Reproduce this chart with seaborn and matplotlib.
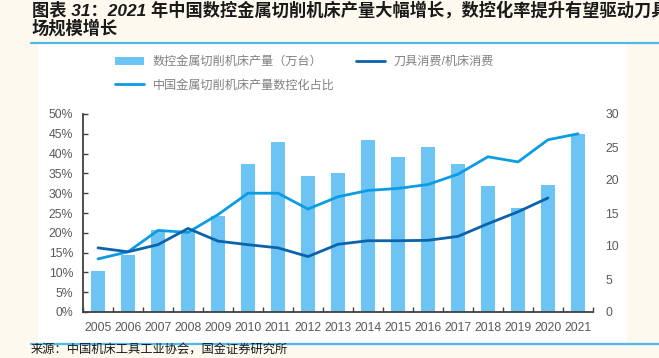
import numpy as np
import matplotlib
matplotlib.use("Agg")
import matplotlib.pyplot as plt
import seaborn as sns
from matplotlib.patches import Rectangle, Patch
from matplotlib.lines import Line2D
from matplotlib.ticker import FixedLocator

# ---------------- data ----------------
years = list(range(2005, 2022))
cnc_output = [6.2, 8.7, 12.4, 12.2, 14.6, 22.4, 25.8, 20.6, 21.0, 26.1,
              23.5, 25.0, 22.4, 19.1, 15.7, 19.3, 27.0]          # 万台 (right axis)
cnc_rate = [13.4, 15.2, 20.6, 20.1, 24.6, 30.0, 30.0, 26.0, 29.1, 30.7,
            31.2, 32.2, 34.8, 39.2, 37.9, 43.5, 45.0]            # % (left axis)
tool_ratio = [16.2, 15.2, 17.0, 21.1, 17.9, 17.0, 16.2, 14.0, 17.1, 18.0,
              18.0, 18.1, 19.1, 22.3, 25.3, 28.8, np.nan]        # % (left axis)
left_ticks = list(range(0, 55, 5))
right_ticks = list(range(0, 35, 5))
year_labels = [str(y) for y in years]
title_line1 = "图表 31：2021 年中国数控金属切削机床产量大幅增长，数控化率提升有望驱动刀具市"
title_line2 = "场规模增长"
source_text = "来源：中国机床工具工业协会，国金证券研究所"
legend_labels = ["数控金属切削机床产量（万台）", "刀具消费/机床消费", "中国金属切削机床产量数控化占比"]

# ---------------- style ----------------
sns.set_style("white")
plt.rcParams["font.family"] = ["Liberation Sans", "Noto Sans CJK SC", "DejaVu Sans"]

BAR_C = "#6CC4F4"
DARK_C = "#0B63AD"
LIGHT_C = "#0C9CE4"
TICK_C = "#595959"
SPINE_C = "#404040"

W, H = 659, 358
fig = plt.figure(figsize=(W / 100, H / 100), dpi=100, facecolor="#FDF9EE")

# white panel & blue rules
fig.patches.append(Rectangle((38 / W, 1 - 343 / H), (627 - 38) / W, (343 - 43) / H,
                             transform=fig.transFigure, facecolor="white",
                             edgecolor="none", zorder=-5))
fig.add_artist(Line2D([31 / W, 1], [1 - 43 / H] * 2, color="#4DB8EA", lw=1.6, zorder=-4))
fig.add_artist(Line2D([31 / W, 1], [1 - 344 / H] * 2, color="#4DB8EA", lw=1.6, zorder=-4))

# titles / source
fig.text(32 / W, 1 - 10 / H, title_line1, fontsize=12.4, fontweight="bold",
         style="italic", va="center", ha="left", color="#1a1a1a")
fig.text(32 / W, 1 - 28 / H, title_line2, fontsize=12.4, fontweight="bold",
         style="italic", va="center", ha="left", color="#1a1a1a")
fig.text(31 / W, 1 - 351 / H, source_text, fontsize=8.8, va="center", ha="left",
         color="#1a1a1a")

# axes
ax = fig.add_axes([83 / W, 1 - 312 / H, (593 - 83) / W, (312 - 114) / H])
ax2 = ax.twinx()

sns.barplot(x=years, y=cnc_output, native_scale=True, width=0.44, color=BAR_C,
            saturation=1, linewidth=0, ax=ax2)
sns.lineplot(x=years, y=cnc_rate, color=LIGHT_C, linewidth=2, ax=ax)
sns.lineplot(x=years, y=tool_ratio, color=DARK_C, linewidth=2, ax=ax)

ax.set_zorder(ax2.get_zorder() + 1)
ax.patch.set_visible(False)
ax2.patch.set_visible(False)

ax.set_xlim(2004.5, 2021.5)
ax.set_ylim(0, 50)
ax2.set_ylim(0, 30)

ax.set_xticks(years)
ax.set_xticklabels(year_labels)
ax.xaxis.set_minor_locator(FixedLocator([y + 0.5 for y in [2004] + years]))
ax.tick_params(axis="x", which="major", length=0, pad=7, labelsize=8.8,
               labelcolor=TICK_C)
ax.tick_params(axis="x", which="minor", direction="in", length=3.5, width=1,
               color=SPINE_C, bottom=True)

ax.set_yticks(left_ticks)
ax.set_yticklabels([f"{v}%" for v in left_ticks])
ax.tick_params(axis="y", direction="in", length=3.5, width=1, color=SPINE_C,
               pad=7, labelsize=8.8, labelcolor=TICK_C)

ax2.set_yticks(right_ticks)
ax2.set_yticklabels([str(v) for v in right_ticks])
ax2.tick_params(axis="y", length=0, pad=9, labelsize=8.8, labelcolor=TICK_C)

for s in ["top", "right"]:
    ax.spines[s].set_visible(False)
for s in ["left", "bottom"]:
    ax.spines[s].set_color(SPINE_C)
    ax.spines[s].set_linewidth(1.3)
for s in ax2.spines.values():
    s.set_visible(False)
ax.set_xlabel("")
ax.set_ylabel("")
ax2.set_ylabel("")

handles = [Patch(facecolor=BAR_C, edgecolor="none"),
           Line2D([], [], color=LIGHT_C, lw=2),
           Line2D([], [], color=DARK_C, lw=2)]
labels = [legend_labels[0], legend_labels[2], legend_labels[1]]
fig.legend(handles, labels, ncol=2, loc="upper left",
           bbox_to_anchor=(115 / W, 1 - 56 / H), frameon=False, fontsize=8.7,
           labelcolor="#808080", handlelength=2.4, handleheight=0.6,
           handletextpad=0.7, columnspacing=1.8, labelspacing=0.95,
           borderpad=0, borderaxespad=0)

fig.savefig("out.png", dpi=100, facecolor=fig.get_facecolor())
